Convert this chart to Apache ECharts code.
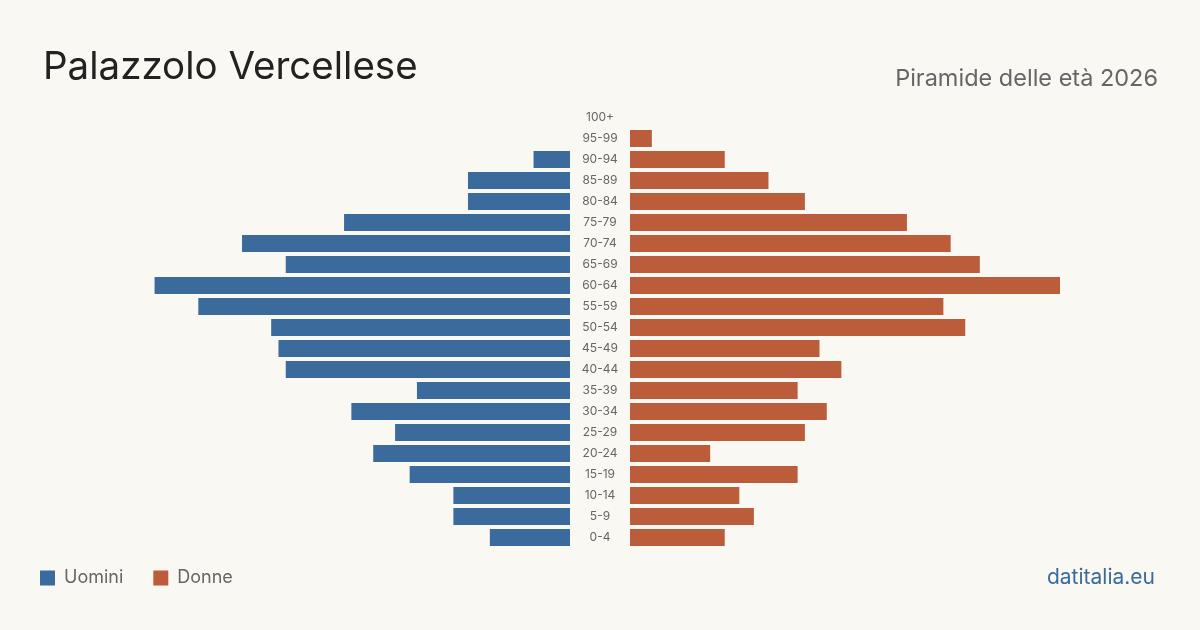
<!DOCTYPE html>
<html>
<head>
<meta charset="utf-8">
<script src="https://cdn.jsdelivr.net/npm/echarts@6/dist/echarts.min.js"></script>
<style>
  html, body { margin: 0; padding: 0; background: #faf8f3; }
  #chart { width: 1200px; height: 630px; }
</style>
</head>
<body>
<div id="chart"></div>
<script>
// fasce d'età, dall'alto verso il basso
const ageGroups = ['100+', '95-99', '90-94', '85-89', '80-84', '75-79', '70-74', '65-69', '60-64', '55-59',
    '50-54', '45-49', '40-44', '35-39', '30-34', '25-29', '20-24', '15-19', '10-14', '5-9', '0-4'];
const uomini = [0, 0, 5, 14, 14, 31, 45, 39, 57, 51, 41, 40, 39, 21, 30, 24, 27, 22, 16, 16, 11];
const donne = [0, 3, 13, 19, 24, 38, 44, 48, 59, 43, 46, 26, 29, 23, 27, 24, 11, 23, 15, 17, 13];

const maxVal = 59;
const blu = '#3b6b9c';
const arancio = '#bb5c3b';
const font = 'Inter, "Noto Sans", sans-serif';

const chart = echarts.init(document.getElementById('chart'));

chart.setOption({
    backgroundColor: '#faf8f3',
    textStyle: { fontFamily: font },
    title: [
        {
            text: 'Palazzolo Vercellese',
            left: 38,
            top: 43,
            textStyle: { fontSize: 38.5, fontWeight: 'normal', color: '#222', fontFamily: font }
        },
        {
            text: 'Piramide delle età 2026',
            right: 37,
            top: 62,
            textStyle: { fontSize: 23.5, fontWeight: 'normal', color: '#666', fontFamily: font }
        },
        {
            text: 'datitalia.eu',
            right: 40,
            top: 562,
            textStyle: { fontSize: 21, fontWeight: 'normal', color: '#3b6b9c', fontFamily: font }
        }
    ],
    legend: {
        left: 40,
        top: 569,
        padding: 0,
        icon: 'rect',
        itemWidth: 15,
        itemHeight: 15,
        itemGap: 30,
        textStyle: { fontSize: 18, color: '#666', fontFamily: font, padding: [0, 0, 0, 4] },
        data: ['Uomini', 'Donne']
    },
    grid: [
        { left: 140, width: 430, top: 107, height: 441 },
        { left: 630, width: 430, top: 107, height: 441 }
    ],
    xAxis: [
        { gridIndex: 0, type: 'value', min: 0, max: maxVal, inverse: true, show: false },
        { gridIndex: 1, type: 'value', min: 0, max: maxVal, show: false }
    ],
    yAxis: [
        {
            gridIndex: 0,
            type: 'category',
            data: ageGroups,
            inverse: true,
            position: 'right',
            axisLine: { show: false },
            axisTick: { show: false },
            axisLabel: { margin: 30, align: 'center', fontSize: 12, color: '#666', fontFamily: font }
        },
        {
            gridIndex: 1,
            type: 'category',
            data: ageGroups,
            inverse: true,
            show: false
        }
    ],
    series: [
        {
            name: 'Uomini',
            type: 'bar',
            xAxisIndex: 0,
            yAxisIndex: 0,
            data: uomini,
            barCategoryGap: '19%',
            itemStyle: { color: blu },
            silent: true
        },
        {
            name: 'Donne',
            type: 'bar',
            xAxisIndex: 1,
            yAxisIndex: 1,
            data: donne,
            barCategoryGap: '19%',
            itemStyle: { color: arancio },
            silent: true
        }
    ]
});
</script>
</body>
</html>
